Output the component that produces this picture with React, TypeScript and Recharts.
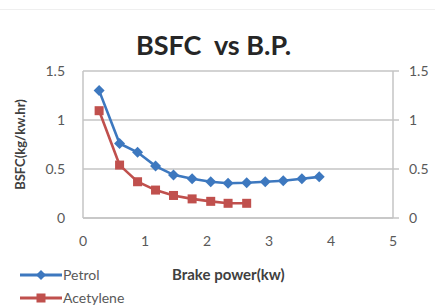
import React from 'react';
import { LineChart, Line, XAxis, YAxis, CartesianGrid } from 'recharts';

const brakePower = [0.26, 0.59, 0.88, 1.17, 1.46, 1.76, 2.06, 2.34, 2.64, 2.94, 3.23, 3.53, 3.81];
const petrolBsfc = [1.3, 0.76, 0.67, 0.53, 0.44, 0.4, 0.37, 0.355, 0.36, 0.37, 0.38, 0.4, 0.42];
const acetyleneBsfc = [1.095, 0.54, 0.37, 0.285, 0.23, 0.195, 0.17, 0.15, 0.15];
const seriesNames = ['Petrol', 'Acetylene'];
const xTicks = [0, 1, 2, 3, 4, 5];
const yTicks = [0, 0.5, 1, 1.5];

const BLUE = '#3d78bf';
const RED = '#c0504d';
const GRID = '#c4c4c4';
const TEXT = '#595959';
const FONT = 'Lato, "Open Sans", sans-serif';

const petrolData = brakePower.map((bp, i) => ({ bp, bsfc: petrolBsfc[i] }));
const acetyleneData = acetyleneBsfc.map((bsfc, i) => ({ bp: brakePower[i], bsfc }));

const Diamond = (props: any) => {
    const { cx, cy, fill, size = 5 } = props;
    if (cx == null || cy == null) return null;
    return <path d={`M${cx},${cy - size}L${cx + size},${cy}L${cx},${cy + size}L${cx - size},${cy}Z`} fill={fill} />;
};

const Square = (props: any) => {
    const { cx, cy, fill, size = 4.5 } = props;
    if (cx == null || cy == null) return null;
    return <rect x={cx - size} y={cy - size} width={size * 2} height={size * 2} fill={fill} />;
};

const axisLine = { stroke: GRID, strokeWidth: 1.5 };
const tickStyle = { fill: TEXT, fontSize: 14, fontFamily: FONT };

export default function App() {
    return (
        <div style={{ position: 'fixed', left: 0, top: 0, width: 435, height: 305, background: '#fff', overflow: 'hidden' }}>
            <div style={{ position: 'absolute', left: 0, top: 9, width: 435, height: 1, background: '#efefef' }} />
            <div style={{
                position: 'absolute', left: 0, width: 435, top: 28, textAlign: 'center',
                fontFamily: FONT, fontWeight: 'bold', fontSize: 27, color: '#262626'
            }}>
                <span style={{ position: 'relative', left: -4 }}>BSFC&nbsp;&nbsp;vs B.P.</span>
            </div>
            <div style={{
                position: 'absolute', left: 172, top: 265, fontFamily: FONT, fontWeight: 'bold',
                fontSize: 15, color: '#404040'
            }}>
                Brake power(kw)
            </div>
            {/* legend, Excel style: line with marker, then name */}
            <div style={{ position: 'absolute', left: 20, top: 263, fontFamily: FONT, fontSize: 14, color: TEXT }}>
                {seriesNames.map((name, i) => {
                    const color = i === 0 ? BLUE : RED;
                    return (
                        <div key={name} style={{ display: 'flex', alignItems: 'center', height: 23 }}>
                            <svg width={42} height={14} style={{ marginRight: 1 }}>
                                <line x1={0} y1={7} x2={42} y2={7} stroke={color} strokeWidth={3} />
                                {i === 0
                                    ? <Diamond cx={21} cy={7} fill={color} size={5} />
                                    : <Square cx={21} cy={7} fill={color} size={4.5} />}
                            </svg>
                            <span>{name}</span>
                        </div>
                    );
                })}
            </div>
            <div style={{ position: 'absolute', left: 0, top: 0 }}>
                <LineChart width={435} height={305} margin={{ top: 71, right: 0, bottom: 57, left: 0 }}>
                    <CartesianGrid vertical={false} stroke={GRID} strokeWidth={1.5} yAxisId="left" />
                    <XAxis
                        type="number"
                        dataKey="bp"
                        domain={[0, 5]}
                        ticks={xTicks}
                        height={30}
                        axisLine={axisLine}
                        tickLine={false}
                        tickMargin={12}
                        tick={tickStyle}
                        allowDuplicatedCategory={false}
                    />
                    <YAxis
                        yAxisId="left"
                        orientation="left"
                        domain={[0, 1.5]}
                        ticks={yTicks}
                        width={83}
                        axisLine={axisLine}
                        tickLine={false}
                        tickMargin={12}
                        tick={tickStyle}
                        label={{
                            value: 'BSFC(kg/kw.hr)', angle: -90, position: 'insideLeft', offset: 20,
                            style: { textAnchor: 'middle', fill: '#404040', fontSize: 13, fontWeight: 'bold', fontFamily: FONT }
                        }}
                    />
                    <YAxis
                        yAxisId="right"
                        orientation="right"
                        domain={[0, 1.5]}
                        ticks={yTicks}
                        width={42}
                        axisLine={axisLine}
                        tickLine={axisLine}
                        tickSize={6}
                        tickMargin={10}
                        tick={tickStyle}
                    />
                    <Line
                        yAxisId="left"
                        name={seriesNames[0]}
                        data={petrolData}
                        dataKey="bsfc"
                        stroke={BLUE}
                        strokeWidth={2.6}
                        dot={<Diamond fill={BLUE} size={5.5} />}
                        activeDot={false}
                        isAnimationActive={false}
                    />
                    <Line
                        yAxisId="right"
                        name={seriesNames[1]}
                        data={acetyleneData}
                        dataKey="bsfc"
                        stroke={RED}
                        strokeWidth={2.6}
                        dot={<Square fill={RED} size={4.5} />}
                        activeDot={false}
                        isAnimationActive={false}
                    />
                </LineChart>
            </div>
        </div>
    );
}
